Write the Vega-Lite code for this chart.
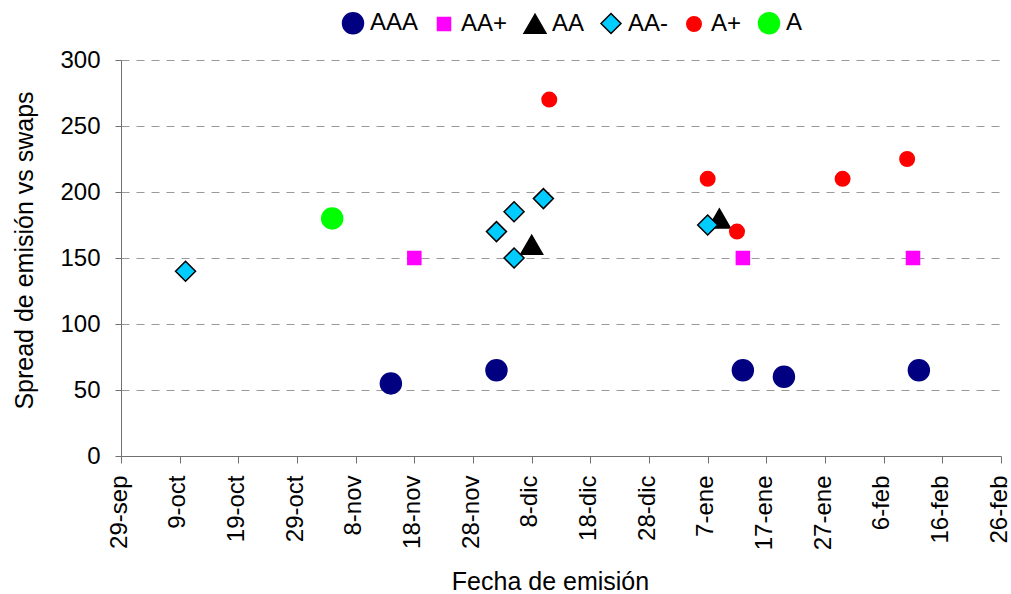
{
  "$schema": "https://vega.github.io/schema/vega-lite/v6.json",
  "autosize": "none",
  "width": 880,
  "height": 396,
  "padding": {"left": 121, "top": 60, "right": 10, "bottom": 138},
  "background": "white",
  "config": {
    "view": {"stroke": null},
    "font": "Liberation Sans",
    "legend": {
      "orient": "none",
      "legendX": 220,
      "legendY": -49,
      "direction": "horizontal",
      "columns": 6,
      "labelFont": "Liberation Sans",
      "labelFontSize": 24,
      "labelColor": "black",
      "labelOffset": 5,
      "columnPadding": 13,
      "symbolOpacity": 1,
      "symbolStrokeWidth": 1.5
    }
  },
  "data": {
    "values": [
      {"rating": "AAA", "fecha": "2006-11-14", "spread": 55},
      {"rating": "AAA", "fecha": "2006-12-02", "spread": 65},
      {"rating": "AAA", "fecha": "2007-01-13", "spread": 65},
      {"rating": "AAA", "fecha": "2007-01-20", "spread": 60},
      {"rating": "AAA", "fecha": "2007-02-12", "spread": 65},
      {"rating": "AA+", "fecha": "2006-11-18", "spread": 150},
      {"rating": "AA+", "fecha": "2007-01-13", "spread": 150},
      {"rating": "AA+", "fecha": "2007-02-11", "spread": 150},
      {"rating": "AA", "fecha": "2006-12-08", "spread": 160},
      {"rating": "AA", "fecha": "2007-01-09", "spread": 180},
      {"rating": "AA-", "fecha": "2006-10-10", "spread": 140},
      {"rating": "AA-", "fecha": "2006-12-02", "spread": 170},
      {"rating": "AA-", "fecha": "2006-12-05", "spread": 185},
      {"rating": "AA-", "fecha": "2006-12-05", "spread": 150},
      {"rating": "AA-", "fecha": "2006-12-10", "spread": 195},
      {"rating": "AA-", "fecha": "2007-01-07", "spread": 175},
      {"rating": "A+", "fecha": "2006-12-11", "spread": 270},
      {"rating": "A+", "fecha": "2007-01-07", "spread": 210},
      {"rating": "A+", "fecha": "2007-01-12", "spread": 170},
      {"rating": "A+", "fecha": "2007-01-30", "spread": 210},
      {"rating": "A+", "fecha": "2007-02-10", "spread": 225},
      {"rating": "A", "fecha": "2006-11-04", "spread": 180}
    ]
  },
  "mark": {"type": "point", "filled": true, "opacity": 1, "strokeWidth": 1.5},
  "encoding": {
    "x": {
      "field": "fecha",
      "type": "temporal",
      "scale": {
        "type": "utc",
        "domain": [
          {"year": 2006, "month": 9, "date": 29, "utc": true},
          {"year": 2007, "month": 2, "date": 26, "utc": true}
        ]
      },
      "axis": {
        "values": [
          {"year": 2006, "month": 9, "date": 29, "utc": true},
          {"year": 2006, "month": 10, "date": 9, "utc": true},
          {"year": 2006, "month": 10, "date": 19, "utc": true},
          {"year": 2006, "month": 10, "date": 29, "utc": true},
          {"year": 2006, "month": 11, "date": 8, "utc": true},
          {"year": 2006, "month": 11, "date": 18, "utc": true},
          {"year": 2006, "month": 11, "date": 28, "utc": true},
          {"year": 2006, "month": 12, "date": 8, "utc": true},
          {"year": 2006, "month": 12, "date": 18, "utc": true},
          {"year": 2006, "month": 12, "date": 28, "utc": true},
          {"year": 2007, "month": 1, "date": 7, "utc": true},
          {"year": 2007, "month": 1, "date": 17, "utc": true},
          {"year": 2007, "month": 1, "date": 27, "utc": true},
          {"year": 2007, "month": 2, "date": 6, "utc": true},
          {"year": 2007, "month": 2, "date": 16, "utc": true},
          {"year": 2007, "month": 2, "date": 26, "utc": true}
        ],
        "labelExpr": "utcdate(datum.value) + '-' + ['ene','feb','mar','abr','may','jun','jul','ago','sep','oct','nov','dic'][utcmonth(datum.value)]",
        "labelAngle": 270,
        "labelAlign": "right",
        "labelBaseline": "middle",
        "labelFontSize": 24,
        "labelColor": "black",
        "labelPadding": 12,
        "labelOffset": -2,
        "labelFlush": false,
        "labelOverlap": false,
        "labelBound": false,
        "tickSize": 7,
        "tickColor": "#707070",
        "domainColor": "#707070",
        "grid": false,
        "title": "Fecha de emisión",
        "titleFontSize": 25,
        "titleFontWeight": "normal",
        "titleColor": "black",
        "titleX": 429,
        "titleY": 133,
        "titleAlign": "center",
        "titleBaseline": "alphabetic"
      }
    },
    "y": {
      "field": "spread",
      "type": "quantitative",
      "scale": {"domain": [0, 300], "nice": false, "zero": true},
      "axis": {
        "values": [0, 50, 100, 150, 200, 250, 300],
        "labelFontSize": 24,
        "labelColor": "black",
        "labelPadding": 15,
        "labelFlush": false,
        "tickSize": 6,
        "tickColor": "#707070",
        "domainColor": "#707070",
        "grid": true,
        "gridColor": "#9a9a9a",
        "gridDash": [8, 7],
        "gridWidth": 1,
        "title": "Spread de emisión vs swaps",
        "titleFontSize": 25,
        "titleFontWeight": "normal",
        "titleColor": "black",
        "titleAngle": -90,
        "titleX": -97,
        "titleY": 190,
        "titleAlign": "center",
        "titleBaseline": "middle"
      }
    },
    "fill": {
      "field": "rating",
      "type": "nominal",
      "title": null,
      "scale": {
        "domain": ["AAA", "AA+", "AA", "AA-", "A+", "A"],
        "range": ["#000080", "#FF00FF", "#000000", "#00CCFF", "#FF0000", "#00FF00"]
      }
    },
    "stroke": {
      "field": "rating",
      "type": "nominal",
      "title": null,
      "scale": {
        "domain": ["AAA", "AA+", "AA", "AA-", "A+", "A"],
        "range": ["#000080", "#FF00FF", "#000000", "#000000", "#FF0000", "#00FF00"]
      }
    },
    "shape": {
      "field": "rating",
      "type": "nominal",
      "title": null,
      "scale": {
        "domain": ["AAA", "AA+", "AA", "AA-", "A+", "A"],
        "range": ["circle", "square", "triangle-up", "diamond", "circle", "circle"]
      }
    },
    "size": {
      "field": "rating",
      "type": "nominal",
      "title": null,
      "scale": {
        "type": "ordinal",
        "domain": ["AAA", "AA+", "AA", "AA-", "A+", "A"],
        "range": [440, 170, 480, 400, 210, 440]
      }
    }
  }
}
